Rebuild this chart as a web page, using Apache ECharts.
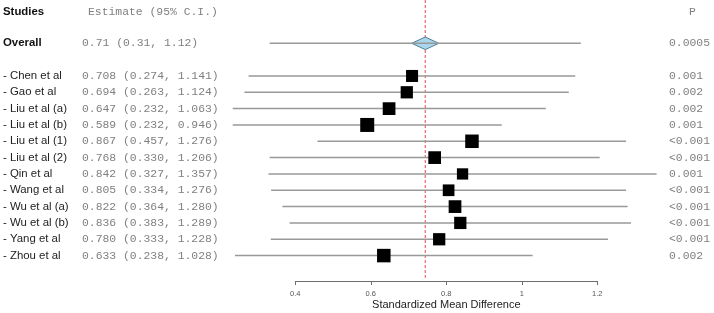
<!DOCTYPE html>
<html>
<head>
<meta charset="utf-8">
<script src="https://cdn.jsdelivr.net/npm/echarts@6/dist/echarts.min.js"></script>
<style>
  html, body { margin: 0; padding: 0; background: #fff; }
  #forest { width: 714px; height: 313px; }
</style>
</head>
<body>
<div id="forest"></div>
<script>
// study data
const studies = ['Chen et al', 'Gao et al', 'Liu et al (a)', 'Liu et al (b)', 'Liu et al (1)', 'Liu et al (2)',
  'Qin et al', 'Wang et al', 'Wu et al (a)', 'Wu et al (b)', 'Yang et al', 'Zhou et al'];
const estimates = [0.708, 0.694, 0.647, 0.589, 0.867, 0.768, 0.842, 0.805, 0.822, 0.836, 0.780, 0.633];
const lowerCI = [0.274, 0.263, 0.232, 0.232, 0.457, 0.330, 0.327, 0.334, 0.364, 0.383, 0.333, 0.238];
const upperCI = [1.141, 1.124, 1.063, 0.946, 1.276, 1.206, 1.357, 1.276, 1.280, 1.289, 1.228, 1.028];
const weights = [7.6, 7.9, 8.5, 10.3, 9.6, 8.5, 6.7, 7.2, 8.5, 7.9, 7.9, 9.6];
const pValues = ['0.001', '0.002', '0.002', '0.001', '<0.001', '<0.001', '0.001', '<0.001', '<0.001', '<0.001', '<0.001', '0.002'];

// pooled result (label as printed, marks as drawn)
const overallLabel = '0.71 (0.31, 1.12)';
const overallP = '0.0005';
const overallCI = [0.330, 1.156];
const overallDiamond = [0.707, 0.743, 0.779];
const refLine = 0.743;

const tickLabels = ['0.4', '0.6', '0.8', '1', '1.2'];

// layout
const X0 = 144.3;      // pixel of value 0
const PX = 377.5;      // pixels per unit
const X_MAX = 1.39;
const ROW_MIN = -2.5, ROW_MAX = 14.5;
const HEADER_ROW = -2, OVERALL_ROW = 0;

const nameFont = 'Liberation Sans, Arial, sans-serif';
const monoFont = 'Liberation Mono, Courier New, monospace';
const grey = '#808080';

function rowIndex(v) {
  const r = Math.round(v);
  return Math.abs(v - r) < 1e-6 ? r : null;
}

function textFor(col, v) {
  const r = rowIndex(v);
  if (r === null) return '';
  if (r === HEADER_ROW) {
    return col === 0 ? '{hb|Studies}' : col === 1 ? '{h|Estimate (95% C.I.)}' : '{h|P}';
  }
  if (r === OVERALL_ROW) {
    return col === 0 ? '{b|Overall}' : col === 1 ? overallLabel : overallP;
  }
  const i = r - 2;
  if (i < 0 || i >= studies.length) return '';
  if (col === 0) return '- ' + studies[i];
  if (col === 1) return estimates[i].toFixed(3) + ' (' + lowerCI[i].toFixed(3) + ', ' + upperCI[i].toFixed(3) + ')';
  return pValues[i];
}

const labelAxis = (col, position, margin, font, color, rich) => ({
  type: 'value',
  gridIndex: 0,
  position: position,
  inverse: true,
  min: ROW_MIN,
  max: ROW_MAX,
  interval: 0.5,
  axisLine: { show: false },
  axisTick: { show: false },
  splitLine: { show: false },
  axisLabel: {
    show: true,
    align: 'left',
    margin: margin,
    fontFamily: font,
    fontSize: 11.4,
    color: color,
    showMinLabel: true,
    showMaxLabel: true,
    hideOverlap: false,
    formatter: (v) => textFor(col, v),
    rich: rich,
  },
});

const studyData = studies.map((s, i) => [estimates[i], i + 2, lowerCI[i], upperCI[i], weights[i]]);

const chart = echarts.init(document.getElementById('forest'), null, { renderer: 'canvas' });

chart.setOption({
  animation: false,
  backgroundColor: '#fff',
  grid: [
    { left: X0, right: 714 - (X0 + PX * X_MAX), top: 43.3 - 2.5 * 16.33, bottom: 313 - (43.3 + 14.5 * 16.33) },
    { left: X0 + 0.4 * PX, width: 0.8 * PX, top: 280, height: 1 },
  ],
  xAxis: [
    { type: 'value', gridIndex: 0, min: 0, max: X_MAX, show: false },
    {
      type: 'value',
      gridIndex: 1,
      min: 0.4,
      max: 1.2,
      interval: 0.2,
      axisLine: { show: true, lineStyle: { color: '#6e6e6e', width: 1 } },
      axisTick: { show: true, length: 4, lineStyle: { color: '#6e6e6e' } },
      splitLine: { show: false },
      axisLabel: {
        margin: 9,
        fontSize: 7.5,
        color: '#555',
        fontFamily: nameFont,
        formatter: (v, idx) => tickLabels[idx],
      },
      name: 'Standardized Mean Difference',
      nameLocation: 'middle',
      nameGap: 18,
      nameTextStyle: { fontFamily: nameFont, fontSize: 11, color: '#222' },
    },
  ],
  yAxis: [
    { type: 'value', gridIndex: 0, inverse: true, min: ROW_MIN, max: ROW_MAX, show: false },
    labelAxis(0, 'left', X0 - 2, nameFont, '#222', {
      b: { fontFamily: nameFont, fontSize: 11.4, fontWeight: 'bold', color: '#111' },
      hb: { fontFamily: nameFont, fontSize: 11.4, fontWeight: 'bold', color: '#111', padding: [3, 0, 0, 0] },
    }),
    labelAxis(1, 'left', X0 - 81, monoFont, grey, {
      h: { fontFamily: monoFont, fontSize: 11.4, color: grey, padding: [3, 0, 0, 6] },
    }),
    labelAxis(2, 'right', 0, monoFont, grey, {
      h: { fontFamily: monoFont, fontSize: 11.4, color: grey, padding: [3, 0, 0, 20] },
    }),
    { type: 'value', gridIndex: 1, show: false },
  ],
  series: [
    {
      // reference line
      type: 'line',
      xAxisIndex: 0,
      yAxisIndex: 0,
      clip: false,
      symbol: 'none',
      data: [[refLine, -2.65], [refLine, 14.36]],
      lineStyle: { color: '#e8474a', width: 1, type: [3, 2] },
      z: 1,
    },
    {
      // pooled estimate
      type: 'custom',
      xAxisIndex: 0,
      yAxisIndex: 0,
      data: [[overallDiamond[1], OVERALL_ROW, overallCI[0], overallCI[1], overallDiamond[0], overallDiamond[2]]],
      encode: { x: 0, y: 1 },
      renderItem: (params, api) => {
        const y = api.value(1);
        const a = api.coord([api.value(2), y]);
        const b = api.coord([api.value(3), y]);
        const l = api.coord([api.value(4), y]);
        const c = api.coord([api.value(0), y]);
        const r = api.coord([api.value(5), y]);
        const h = 6.3;
        return {
          type: 'group',
          children: [
            {
              type: 'polygon',
              shape: { points: [[l[0], l[1]], [c[0], c[1] - h], [r[0], r[1]], [c[0], c[1] + h]] },
              style: { fill: '#a9d6ea', stroke: '#4f7f95', lineWidth: 1 },
            },
            {
              type: 'line',
              shape: { x1: a[0], y1: a[1], x2: b[0], y2: b[1] },
              style: { stroke: '#999', lineWidth: 1.5 },
            },
          ],
        };
      },
      z: 2,
    },
    {
      // individual studies
      type: 'custom',
      xAxisIndex: 0,
      yAxisIndex: 0,
      data: studyData,
      encode: { x: 0, y: 1 },
      renderItem: (params, api) => {
        const y = api.value(1);
        const a = api.coord([api.value(2), y]);
        const b = api.coord([api.value(3), y]);
        const c = api.coord([api.value(0), y]);
        const s = Math.sqrt(api.value(4)) * 4.36;
        return {
          type: 'group',
          children: [
            {
              type: 'line',
              shape: { x1: a[0], y1: a[1], x2: b[0], y2: b[1] },
              style: { stroke: '#999', lineWidth: 1.5 },
            },
            {
              type: 'rect',
              shape: { x: c[0] - s / 2, y: c[1] - s / 2, width: s, height: s },
              style: { fill: '#000' },
            },
          ],
        };
      },
      z: 3,
    },
  ],
});
</script>
</body>
</html>
